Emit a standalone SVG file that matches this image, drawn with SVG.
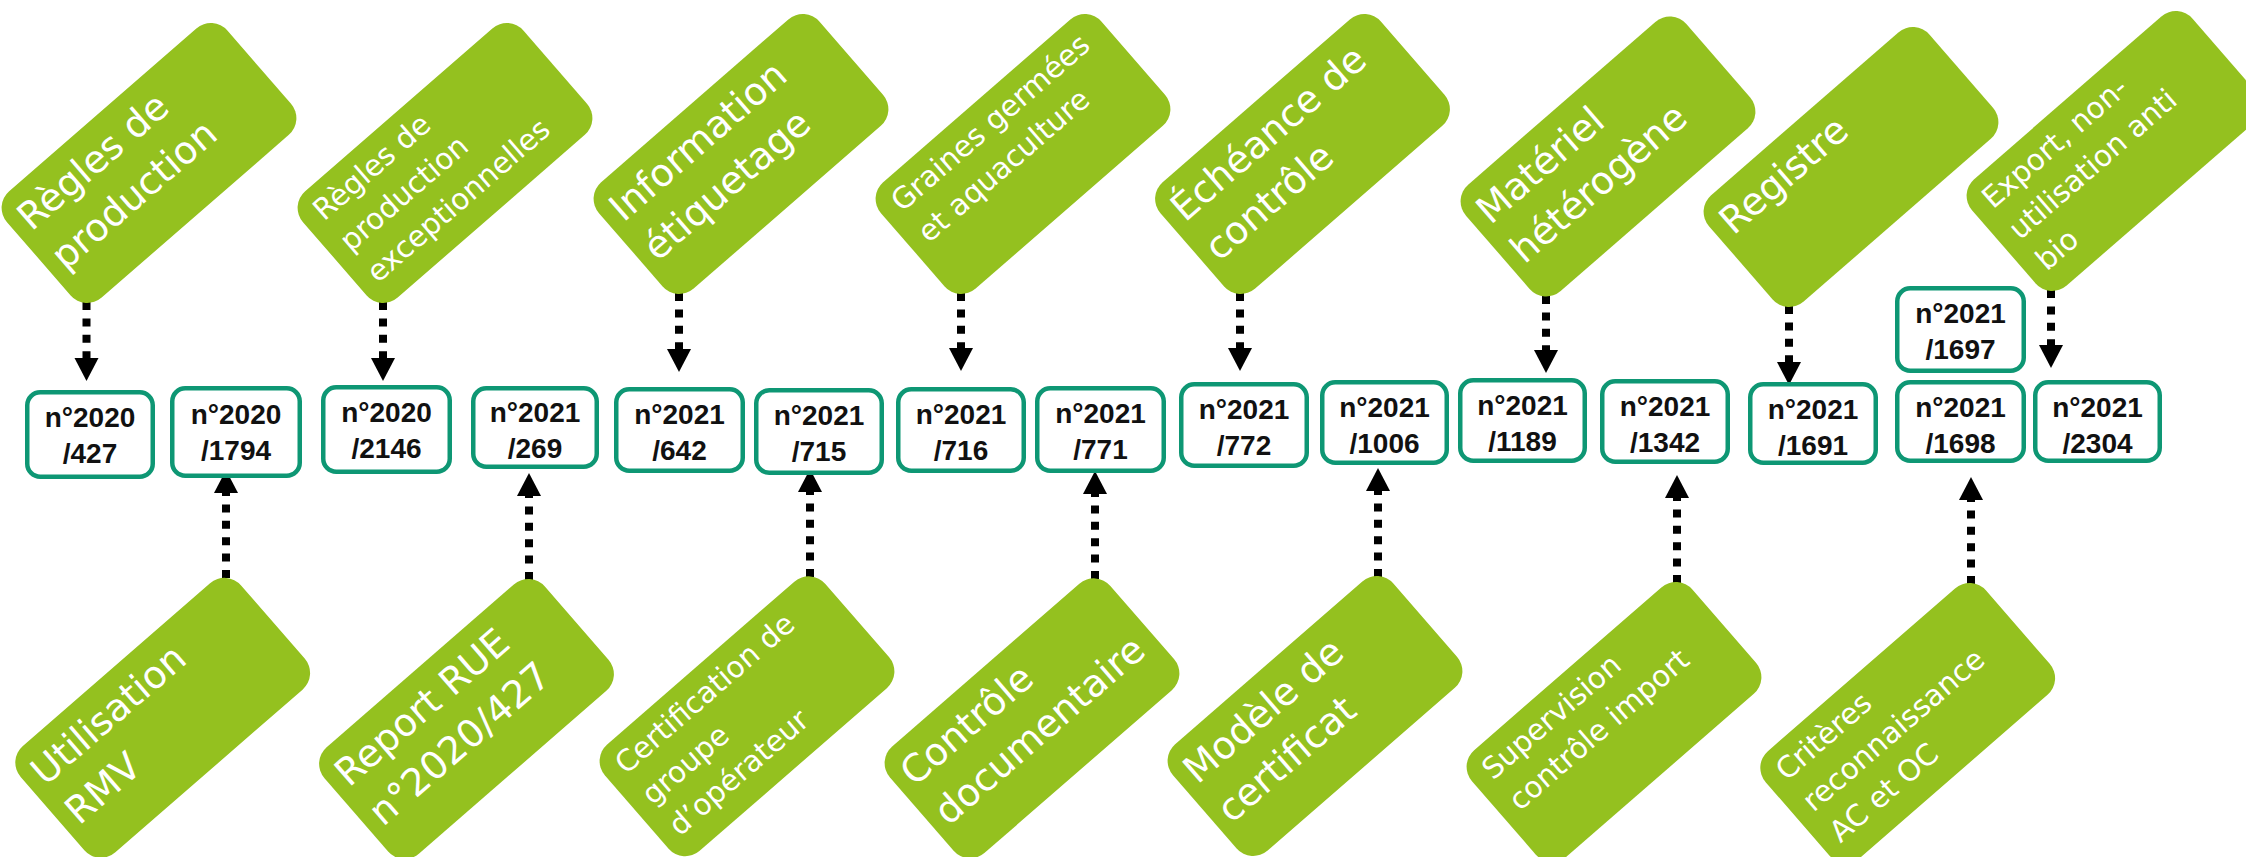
<svg xmlns="http://www.w3.org/2000/svg" width="2246" height="857" viewBox="0 0 2246 857">
<defs>
<style>
.tag rect{fill:#94C11F}
.tag text{font-family:"DejaVu Sans","Liberation Sans",sans-serif;fill:#fff}
.lg{font-size:38px}
.sm{font-size:29.5px}
.box rect{fill:#fff;stroke:#0E9774;stroke-width:4.5}
.box text{font-family:"Liberation Sans","DejaVu Sans",sans-serif;font-weight:bold;font-size:28px;text-anchor:middle;fill:#111}
.conn line{stroke:#000;stroke-width:8;stroke-dasharray:8 8.4;fill:none;marker-end:url(#ah)}
</style>
<marker id="ah" markerUnits="userSpaceOnUse" markerWidth="24" markerHeight="24" viewBox="0 -12 24 24" refX="0" refY="0" orient="auto" overflow="visible"><path d="M0,-12 L23,0 L0,12 Z" fill="#000"/></marker>
</defs>
<rect width="2246" height="857" fill="#fff"/>

<g id="connectors" class="conn">
<line x1="86.5" y1="302" x2="86.5" y2="358"/>
<line x1="383" y1="302" x2="383" y2="358"/>
<line x1="679" y1="293" x2="679" y2="349"/>
<line x1="961" y1="293" x2="961" y2="348"/>
<line x1="1240" y1="293" x2="1240" y2="348"/>
<line x1="1546" y1="296" x2="1546" y2="350"/>
<line x1="1789" y1="306" x2="1789" y2="362"/>
<line x1="2051" y1="290" x2="2051" y2="345"/>
<line x1="226" y1="578" x2="226" y2="493"/>
<line x1="529" y1="580" x2="529" y2="496"/>
<line x1="810" y1="577" x2="810" y2="492"/>
<line x1="1095" y1="579" x2="1095" y2="494"/>
<line x1="1378" y1="577" x2="1378" y2="491"/>
<line x1="1677" y1="583" x2="1677" y2="498"/>
<line x1="1971" y1="584" x2="1971" y2="500"/>
</g>

<g id="t-regles" class="tag" transform="translate(149,163) rotate(-41)"><rect x="-146" y="-70.5" width="292" height="141" rx="22"/><text class="lg"><tspan x="-134" y="-25">Règles de</tspan><tspan x="-134" y="27">production</tspan></text></g>
<g id="t-exception" class="tag" transform="translate(445,163) rotate(-41)"><rect x="-146" y="-70.5" width="292" height="141" rx="22"/><text class="sm"><tspan x="-130" y="-35">Règles de</tspan><tspan x="-130" y="6">production</tspan><tspan x="-130" y="47">exceptionnelles</tspan></text></g>
<g id="t-info" class="tag" transform="translate(741,154) rotate(-41)"><rect x="-146" y="-70.5" width="292" height="141" rx="22"/><text class="lg"><tspan x="-134" y="-25">Information</tspan><tspan x="-134" y="27">étiquetage</tspan></text></g>
<g id="t-graines" class="tag" transform="translate(1023,154) rotate(-41)"><rect x="-146" y="-70.5" width="292" height="141" rx="22"/><text class="sm"><tspan x="-130" y="-35">Graines germées</tspan><tspan x="-130" y="6">et aquaculture</tspan></text></g>
<g id="t-echeance" class="tag" transform="translate(1302.5,154) rotate(-41)"><rect x="-146" y="-70.5" width="292" height="141" rx="22"/><text class="lg"><tspan x="-134" y="-25">Échéance de</tspan><tspan x="-134" y="27">contrôle</tspan></text></g>
<g id="t-materiel" class="tag" transform="translate(1608,156.5) rotate(-41)"><rect x="-146" y="-70.5" width="292" height="141" rx="22"/><text class="lg"><tspan x="-134" y="-25">Matériel</tspan><tspan x="-134" y="27">hétérogène</tspan></text></g>
<g id="t-registre" class="tag" transform="translate(1851,167) rotate(-41)"><rect x="-146" y="-70.5" width="292" height="141" rx="22"/><text class="lg"><tspan x="-134" y="-25">Registre</tspan></text></g>
<g id="t-export" class="tag" transform="translate(2114,151) rotate(-41)"><rect x="-146" y="-70.5" width="292" height="141" rx="22"/><text class="sm"><tspan x="-130" y="-35">Export, non-</tspan><tspan x="-130" y="6">utilisation anti</tspan><tspan x="-130" y="47">bio</tspan></text></g>

<g id="b-rmv" class="tag" transform="translate(162.7,717.8) rotate(-41)"><rect x="-146" y="-70.5" width="292" height="141" rx="22"/><text class="lg"><tspan x="-134" y="-25">Utilisation</tspan><tspan x="-134" y="27">RMV</tspan></text></g>
<g id="b-report" class="tag" transform="translate(466.5,719) rotate(-41)"><rect x="-146" y="-70.5" width="292" height="141" rx="22"/><text class="lg"><tspan x="-134" y="-25">Report RUE</tspan><tspan x="-134" y="27">n°2020/427</tspan></text></g>
<g id="b-certif" class="tag" transform="translate(747,716.3) rotate(-41)"><rect x="-146" y="-70.5" width="292" height="141" rx="22"/><text class="sm"><tspan x="-130" y="-35">Certification de</tspan><tspan x="-130" y="6">groupe</tspan><tspan x="-130" y="47">d’opérateur</tspan></text></g>
<g id="b-controle" class="tag" transform="translate(1032,718.3) rotate(-41)"><rect x="-146" y="-70.5" width="292" height="141" rx="22"/><text class="lg"><tspan x="-134" y="-25">Contrôle</tspan><tspan x="-134" y="27">documentaire</tspan></text></g>
<g id="b-modele" class="tag" transform="translate(1315,716) rotate(-41)"><rect x="-146" y="-70.5" width="292" height="141" rx="22"/><text class="lg"><tspan x="-134" y="-25">Modèle de</tspan><tspan x="-134" y="27">certificat</tspan></text></g>
<g id="b-supervision" class="tag" transform="translate(1614,722) rotate(-41)"><rect x="-146" y="-70.5" width="292" height="141" rx="22"/><text class="sm"><tspan x="-130" y="-35">Supervision</tspan><tspan x="-130" y="6">contrôle import</tspan></text></g>
<g id="b-criteres" class="tag" transform="translate(1907.7,723) rotate(-41)"><rect x="-146" y="-70.5" width="292" height="141" rx="22"/><text class="sm"><tspan x="-130" y="-35">Critères</tspan><tspan x="-130" y="6">reconnaissance</tspan><tspan x="-130" y="47">AC et OC</tspan></text></g>

<g id="n2020-427" class="box"><rect x="27.25" y="392.25" width="125.5" height="84.5" rx="13"/><text x="90" y="427">n°2020</text><text x="90" y="463">/427</text></g>
<g id="n2020-1794" class="box"><rect x="172.25" y="388.25" width="127.5" height="87.5" rx="13"/><text x="236" y="424">n°2020</text><text x="236" y="460">/1794</text></g>
<g id="n2020-2146" class="box"><rect x="323.25" y="387.25" width="126.5" height="84.5" rx="13"/><text x="386.5" y="422">n°2020</text><text x="386.5" y="458">/2146</text></g>
<g id="n2021-269" class="box"><rect x="473.25" y="388.25" width="123.5" height="78.5" rx="13"/><text x="535" y="422">n°2021</text><text x="535" y="458">/269</text></g>
<g id="n2021-642" class="box"><rect x="616.25" y="389.25" width="126.5" height="81.5" rx="13"/><text x="679.5" y="424">n°2021</text><text x="679.5" y="460">/642</text></g>
<g id="n2021-715" class="box"><rect x="756.25" y="390.25" width="125.5" height="82.5" rx="13"/><text x="819" y="425">n°2021</text><text x="819" y="461">/715</text></g>
<g id="n2021-716" class="box"><rect x="898.25" y="389.25" width="125.5" height="81.5" rx="13"/><text x="961" y="424">n°2021</text><text x="961" y="460">/716</text></g>
<g id="n2021-771" class="box"><rect x="1037.25" y="388.25" width="126.5" height="82.5" rx="13"/><text x="1100.5" y="423">n°2021</text><text x="1100.5" y="459">/771</text></g>
<g id="n2021-772" class="box"><rect x="1181.25" y="384.25" width="125.5" height="81.5" rx="13"/><text x="1244" y="419">n°2021</text><text x="1244" y="455">/772</text></g>
<g id="n2021-1006" class="box"><rect x="1322.25" y="382.25" width="124.5" height="80.5" rx="13"/><text x="1384.5" y="417">n°2021</text><text x="1384.5" y="453">/1006</text></g>
<g id="n2021-1189" class="box"><rect x="1460.25" y="380.25" width="124.5" height="80.5" rx="13"/><text x="1522.5" y="415">n°2021</text><text x="1522.5" y="451">/1189</text></g>
<g id="n2021-1342" class="box"><rect x="1602.25" y="381.25" width="125.5" height="80.5" rx="13"/><text x="1665" y="416">n°2021</text><text x="1665" y="452">/1342</text></g>
<g id="n2021-1691" class="box"><rect x="1750.25" y="384.25" width="125.5" height="78.5" rx="13"/><text x="1813" y="419">n°2021</text><text x="1813" y="455">/1691</text></g>
<g id="n2021-1697" class="box"><rect x="1897.25" y="288.25" width="126.5" height="82.5" rx="13"/><text x="1960.5" y="323">n°2021</text><text x="1960.5" y="359">/1697</text></g>
<g id="n2021-1698" class="box"><rect x="1897.25" y="382.25" width="126.5" height="78.5" rx="13"/><text x="1960.5" y="417">n°2021</text><text x="1960.5" y="453">/1698</text></g>
<g id="n2021-2304" class="box"><rect x="2035.25" y="382.25" width="124.5" height="78.5" rx="13"/><text x="2097.5" y="417">n°2021</text><text x="2097.5" y="453">/2304</text></g>
</svg>
